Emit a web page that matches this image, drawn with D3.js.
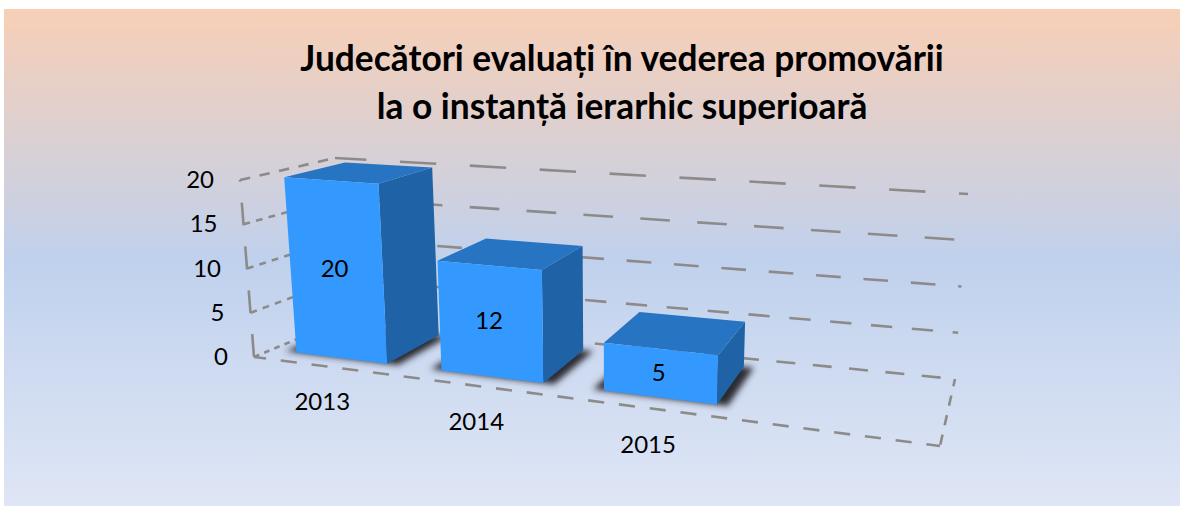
<!DOCTYPE html>
<html>
<head>
<meta charset="utf-8">
<style>
html, body { margin: 0; padding: 0; background: #fff; }
text { font-family: Lato, "Noto Sans", sans-serif; fill: #000; }
</style>
<script src="https://cdn.jsdelivr.net/npm/d3@7"></script>
</head>
<body>
<svg id="chart" width="1180" height="506"></svg>
<script>
let years = ["2013", "2014", "2015"]
let values = [20, 12, 5]
let y_ticks = [0, 5, 10, 15, 20]
let title_lines = ["Judecători evaluați în vederea promovării", "la o instanță ierarhic superioară"]

// corners of the chart box, bottom and top, front and back
let corners = {
    bottom: {fl: [254, 357], fr: [940, 446], bl: [345, 319], br: [955, 379]},
    top: {fl: [240, 180], fr: [953, 230], bl: [335, 158], br: [968, 194]}
}
let bar_depth = [0.2, 0.86]

// dash length changes from level to level in the picture
let back_period = [36.5, 41, 47.5, 57, 70]
let back_start = [742, 750, 770, 755, 750]
let side_period = [11, 13, 13, 13, 20]

let svg = d3.select("#chart")
let defs = svg.append("defs")

let bg = defs.append("linearGradient").attr("id", "bg").attr("x2", 0).attr("y2", 1)
bg.append("stop").attr("offset", 0).attr("stop-color", "#f8cfb6")
bg.append("stop").attr("offset", 0.505).attr("stop-color", "#c0d1ed")
bg.append("stop").attr("offset", 1).attr("stop-color", "#dfe6f5")

defs.append("filter").attr("id", "soft")
    .attr("x", "-30%").attr("y", "-30%").attr("width", "160%").attr("height", "160%")
    .append("feGaussianBlur").attr("stdDeviation", 3.2)

defs.append("filter").attr("id", "fuzz")
    .attr("filterUnits", "userSpaceOnUse")
    .attr("x", 0).attr("y", 0).attr("width", 1180).attr("height", 506)
    .append("feGaussianBlur").attr("stdDeviation", 0.6)

svg.append("rect")
    .attr("x", 4).attr("y", 9).attr("width", 1176).attr("height", 497)
    .attr("fill", "url(#bg)")

let band = d3.scaleBand()
    .domain([...years, ""])
    .range([0, 1])
    .paddingInner(0.36)
    .paddingOuter(0.18)

let level = d3.scaleLinear().domain([0, 20]).range([0, 1])

// the right side of the box is nearer, bars get wider going right
function warp(t){
    return 0.794 * t + 0.208 * t * t
}

function lerp(a, b, t){
    return [a[0] + (b[0] - a[0]) * t, a[1] + (b[1] - a[1]) * t]
}

function project(u, v, w){
    let low = lerp(lerp(corners.bottom.fl, corners.bottom.fr, u), lerp(corners.bottom.bl, corners.bottom.br, u), v)
    let high = lerp(lerp(corners.top.fl, corners.top.fr, u), lerp(corners.top.bl, corners.top.br, u), v)
    return lerp(low, high, w)
}

let line = d3.line()
let shape = d3.line().curve(d3.curveLinearClosed)

function dashed(g, from, to, period, start){
    let s = start === undefined ? 0 : ((start - from[0]) % period + period) % period
    g.append("path")
        .attr("d", line([from, to]))
        .attr("fill", "none")
        .attr("stroke", "#8d8b8a")
        .attr("stroke-width", 2.6)
        .attr("stroke-dasharray", (period * 0.52) + " " + (period * 0.48))
        .attr("stroke-dashoffset", period - s)
}

let grid = svg.append("g").attr("class", "grid").attr("filter", "url(#fuzz)")

y_ticks.forEach((tick, i) => {
    let w = level(tick)
    dashed(grid, project(0, 0, w), project(0, 1, w), side_period[i])
    dashed(grid, project(0, 1, w), project(1, 1, w), back_period[i], back_start[i])
})
dashed(grid, project(0, 0, 0), project(1, 0, 0), 31, 746)
dashed(grid, project(1, 1, 0), project(1, 0, 0), 20, 952)
dashed(grid, project(0, 0, 0), project(0, 0, 1), 44)

let bars = years.map((year, i) => ({
    year: year,
    value: values[i],
    u0: warp(band(year)),
    u1: warp(band(year) + band.bandwidth()),
    w: level(values[i])
}))

let v0 = bar_depth[0]
let v1 = bar_depth[1]
let spread = 0.016

svg.append("g").attr("class", "shadows")
    .selectAll("path")
    .data(bars)
    .join("path")
    .attr("d", d => shape([
        project(d.u0 - spread, v0, 0), project(d.u1 + spread, v0, 0),
        project(d.u1 + spread, v1, 0), project(d.u0 - spread, v1, 0)
    ]))
    .attr("fill", "#2c2c30")
    .attr("filter", "url(#soft)")

let bar_g = svg.append("g").attr("class", "bars")
    .selectAll("g")
    .data(bars)
    .join("g")

bar_g.append("path")
    .attr("fill", "#1f62a5")
    .attr("d", d => shape([
        project(d.u1, v0, 0), project(d.u1, v1, 0),
        project(d.u1, v1, d.w), project(d.u1, v0, d.w)
    ]))

bar_g.append("path")
    .attr("fill", "#2674c2")
    .attr("d", d => shape([
        project(d.u0, v0, d.w), project(d.u1, v0, d.w),
        project(d.u1, v1, d.w), project(d.u0, v1, d.w)
    ]))

bar_g.append("path")
    .attr("fill", "#3399ff")
    .attr("d", d => shape([
        project(d.u0, v0, 0), project(d.u1, v0, 0),
        project(d.u1, v0, d.w), project(d.u0, v0, d.w)
    ]))

bar_g.append("text")
    .attr("x", d => project((d.u0 + d.u1) / 2, v0, d.w / 2)[0] - 2)
    .attr("y", d => project((d.u0 + d.u1) / 2, v0, d.w / 2)[1] + 8)
    .attr("text-anchor", "middle")
    .attr("font-size", 24)
    .text(d => d.value)

svg.append("g").attr("class", "y-labels")
    .selectAll("text")
    .data(y_ticks)
    .join("text")
    .attr("x", d => project(0, 0, level(d))[0] - 26)
    .attr("y", d => project(0, 0, level(d))[1] + 8)
    .attr("text-anchor", "end")
    .attr("font-size", 24)
    .text(d => d)

svg.append("g").attr("class", "x-labels")
    .selectAll("text")
    .data(bars)
    .join("text")
    .attr("x", d => project((d.u0 + d.u1) / 2, 0, 0)[0] - 3)
    .attr("y", d => project((d.u0 + d.u1) / 2, 0, 0)[1] + 44)
    .attr("text-anchor", "middle")
    .attr("font-size", 24)
    .text(d => d.year)

svg.append("g").attr("class", "title")
    .selectAll("text")
    .data(title_lines)
    .join("text")
    .attr("x", 622)
    .attr("y", (d, i) => 71 + i * 48)
    .attr("text-anchor", "middle")
    .attr("font-size", 35.3)
    .attr("font-weight", 700)
    .text(d => d)
</script>
</body>
</html>
